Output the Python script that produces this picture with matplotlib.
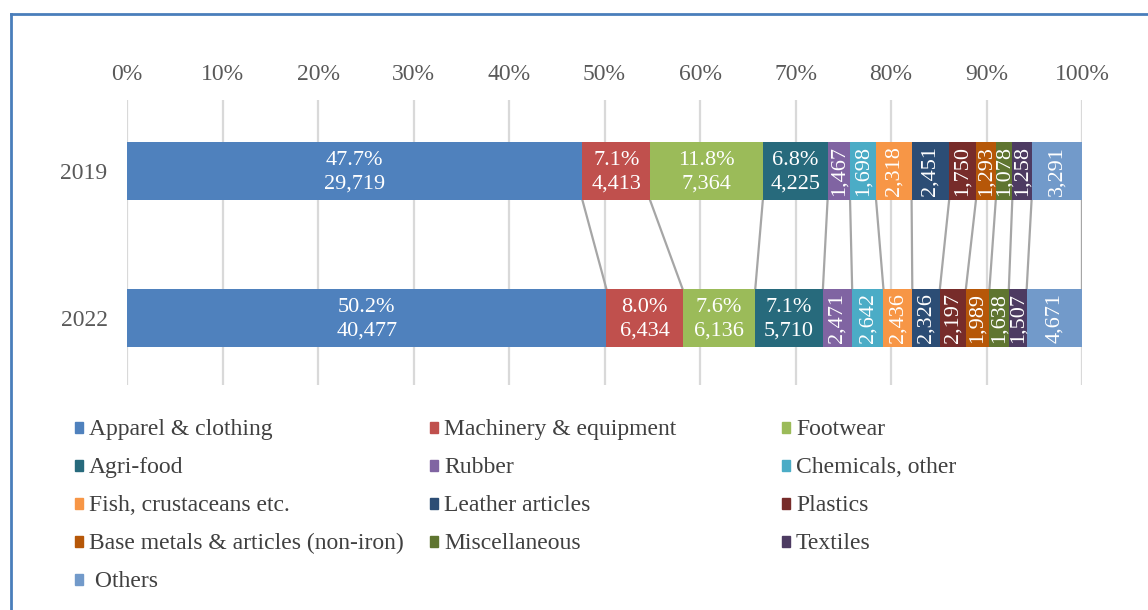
import matplotlib
matplotlib.use("Agg")
import matplotlib.pyplot as plt
from matplotlib.patches import Rectangle
from matplotlib.lines import Line2D

years = ["2019", "2022"]
categories = ["Apparel & clothing", "Machinery & equipment", "Footwear", "Agri-food",
              "Rubber", "Chemicals, other", "Fish, crustaceans etc.", "Leather articles",
              "Plastics", "Base metals & articles (non-iron)", "Miscellaneous", "Textiles",
              " Others"]
values_2019 = [29719, 4413, 7364, 4225, 1467, 1698, 2318, 2451, 1750, 1293, 1078, 1258, 3291]
values_2022 = [40477, 6434, 6136, 5710, 2471, 2642, 2436, 2326, 2197, 1989, 1638, 1507, 4671]
colors = ["#4F81BD", "#C0504D", "#9BBB59", "#276A7C", "#8064A2", "#4BACC6", "#F79646",
          "#2C4D75", "#772C2A", "#B65708", "#5F7530", "#4D3B62", "#729ACA"]
n_pct_labels = 4
tick_vals = [0, 10, 20, 30, 40, 50, 60, 70, 80, 90, 100]

plt.rcParams['font.family'] = ['Liberation Serif', 'DejaVu Serif']

W, H = 1148, 610
fig = plt.figure(figsize=(W / 100, H / 100), dpi=100)
ax = fig.add_axes([127 / W, 1 - 385 / H, 955 / W, 285 / H])

series = [values_2019, values_2022]
bar_h = 0.395
edges = []
for yi, vals in enumerate(series):
    total = sum(vals)
    left = 0.0
    row_edges = []
    for ci, v in enumerate(vals):
        w = v / total * 100
        ax.barh(yi, w, left=left, height=bar_h, color=colors[ci], zorder=3)
        cx = left + w / 2
        if ci < n_pct_labels:
            ax.text(cx, yi + 0.01, f"{w:.1f}%\n{v:,}", ha="center", va="center", color="white",
                    fontsize=16, linespacing=1.32, zorder=5)
        else:
            ax.text(cx, yi, f"{v:,}", ha="center", va="center", color="white",
                    fontsize=16, rotation=90, zorder=5)
        left += w
        row_edges.append(left)
    edges.append(row_edges)

# connector lines between series
for e0, e1 in zip(edges[0], edges[1]):
    ax.plot([e0, e1], [0 + bar_h / 2, 1 - bar_h / 2], color="#A6A6A6", lw=1.6, zorder=2)

ax.set_xlim(0, 100)
ax.set_ylim(1.456, -0.483)
ax.set_xticks(tick_vals)
ax.set_xticklabels([f"{t}%" for t in tick_vals])
ax.xaxis.tick_top()
ax.set_yticks([0, 1])
ax.set_yticklabels(years)
ax.tick_params(axis="x", length=0, pad=11, labelsize=17, labelcolor="#595959")
ax.tick_params(axis="y", length=0, pad=14, labelsize=17, labelcolor="#595959")
for s in ax.spines.values():
    s.set_visible(False)
ax.grid(axis="x", color="#D9D9D9", lw=1.6, zorder=0)
ax.set_axisbelow(True)

# legend (row-major, 3 columns)
col_x = [75, 430, 782]
row_y = [427, 465, 503, 541, 579]
for i, (lab, c) in enumerate(zip(categories, colors)):
    r, cidx = divmod(i, 3)
    x = col_x[cidx]
    y = row_y[r]
    fig.add_artist(Rectangle((x / W, 1 - (y + 6) / H), 8 / W, 11 / H,
                             transform=fig.transFigure, color=c))
    fig.text((x + 14) / W, 1 - y / H, lab, ha="left", va="center_baseline",
             fontsize=17, color="#404040")

# border
fig.add_artist(Line2D([11 / W, 11 / W], [0, 1 - 14 / H], transform=fig.transFigure,
                      color="#4A7EBB", lw=2))
fig.add_artist(Line2D([11 / W, 1], [1 - 14 / H, 1 - 14 / H], transform=fig.transFigure,
                      color="#4A7EBB", lw=2))

fig.savefig("out.png", dpi=100)
